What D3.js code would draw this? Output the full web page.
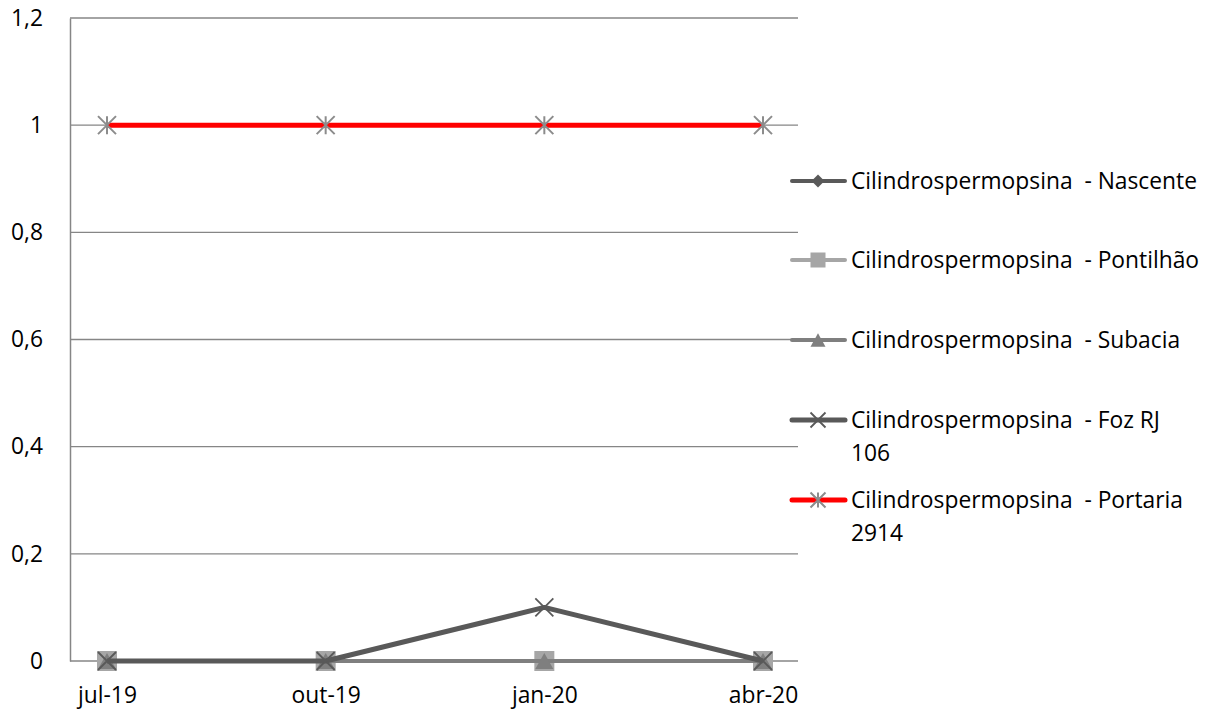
<!DOCTYPE html>
<html>
<head>
<meta charset="utf-8">
<script src="https://cdn.jsdelivr.net/npm/d3@7"></script>
<style>
  html, body { margin: 0; padding: 0; background: #fff; }
  svg text { font-family: "Open Sans", sans-serif; fill: #000; }
</style>
</head>
<body>
<svg id="chart" width="1215" height="711"></svg>
<script>
// Sampling dates (quarterly)
const categories = ["jul-19", "out-19", "jan-20", "abr-20"];

// Cylindrospermopsin concentration per station
const nascente  = [0, 0, 0, 0];
const pontilhao = [0, 0, 0, 0];
const subacia   = [0, 0, 0, 0];
const fozRJ106  = [0, 0, 0.1, 0];
const portaria  = [1, 1, 1, 1];

const seriesNames = [
  ["Cilindrospermopsina  - Nascente"],
  ["Cilindrospermopsina  - Pontilhão"],
  ["Cilindrospermopsina  - Subacia"],
  ["Cilindrospermopsina  - Foz RJ", "106"],
  ["Cilindrospermopsina  - Portaria", "2914"]
];

const yTicks = [0, 0.2, 0.4, 0.6, 0.8, 1, 1.2];

const series = [
  { values: nascente,  names: seriesNames[0], color: "#595959", width: 4,   marker: "diamond",  mcolor: "#595959" },
  { values: pontilhao, names: seriesNames[1], color: "#a6a6a6", width: 4,   marker: "square",   mcolor: "#a6a6a6" },
  { values: subacia,   names: seriesNames[2], color: "#7f7f7f", width: 4,   marker: "triangle", mcolor: "#7f7f7f" },
  { values: fozRJ106,  names: seriesNames[3], color: "#595959", width: 5,   marker: "x",        mcolor: "#595959" },
  { values: portaria,  names: seriesNames[4], color: "#ff0000", width: 5,   marker: "star",     mcolor: "#8c8c8c" }
];

const FONT = 22.8;

const svg = d3.select("#chart");

const plot = { left: 70, right: 798, top: 18, bottom: 661 };

const x = d3.scalePoint().domain(categories).range([107, 763]);
const y = d3.scaleLinear().domain([0, 1.2]).range([plot.bottom, plot.top]);

const fmt = v => d3.format("~g")(v).replace(".", ",");

// Horizontal gridlines
svg.append("g")
  .selectAll("line")
  .data(yTicks)
  .join("line")
  .attr("x1", plot.left).attr("x2", plot.right)
  .attr("y1", d => y(d)).attr("y2", d => y(d))
  .attr("stroke", "#868686").attr("stroke-width", 1.3);

// Value axis
const yAxis = svg.append("g")
  .attr("transform", `translate(${plot.left},0)`)
  .call(d3.axisLeft(y).tickValues(yTicks).tickFormat(fmt).tickSize(0).tickPadding(27));
yAxis.select(".domain").attr("stroke", "#868686").attr("stroke-width", 1.5);
yAxis.selectAll("text").attr("font-size", FONT).attr("font-family", "'Open Sans', sans-serif");

// Category axis labels
const xAxis = svg.append("g")
  .attr("transform", `translate(0,${plot.bottom})`)
  .call(d3.axisBottom(x).tickSize(0).tickPadding(26));
xAxis.select(".domain").remove();
xAxis.selectAll("text").attr("font-size", FONT).attr("font-family", "'Open Sans', sans-serif");

// Marker shapes
function drawMarker(g, type, color, size) {
  const s = size;
  if (type === "diamond") {
    g.append("path").attr("d", d3.symbol(d3.symbolDiamond2, s * s * 0.55)()).attr("fill", color);
  } else if (type === "square") {
    g.append("rect").attr("x", -s / 2).attr("y", -s / 2).attr("width", s).attr("height", s).attr("fill", color);
  } else if (type === "triangle") {
    const h = s * 0.9;
    g.append("path").attr("d", `M0,${-h / 2}L${s / 2},${h / 2}L${-s / 2},${h / 2}Z`).attr("fill", color);
  } else if (type === "x") {
    const r = s / 2;
    g.append("path").attr("d", `M${-r},${-r}L${r},${r}M${-r},${r}L${r},${-r}`)
      .attr("stroke", color).attr("stroke-width", 1.8).attr("fill", "none");
  } else if (type === "star") {
    const r = s / 2;
    g.append("path").attr("d", `M${-r},${-r}L${r},${r}M${-r},${r}L${r},${-r}M0,${-r}L0,${r}`)
      .attr("stroke", color).attr("stroke-width", 2).attr("fill", "none");
  }
}

const markerSize = { diamond: 14, square: 20, triangle: 18, x: 18, star: 18 };

const line = d3.line().x((d, i) => x(categories[i])).y(d => y(d));

series.forEach(s => {
  svg.append("path")
    .datum(s.values)
    .attr("d", line)
    .attr("fill", "none")
    .attr("stroke", s.color)
    .attr("stroke-width", s.width)
    .attr("stroke-linejoin", "round");
  s.values.forEach((v, i) => {
    const g = svg.append("g").attr("transform", `translate(${x(categories[i])},${y(v)})`);
    drawMarker(g, s.marker, s.mcolor, markerSize[s.marker]);
  });
});

// Legend
const legendY = [181, 260, 340, 420, 500];
const legendSize = { diamond: 14, square: 15, triangle: 15, x: 15, star: 15 };
series.forEach((s, k) => {
  const g = svg.append("g").attr("transform", `translate(0,${legendY[k]})`);
  g.append("line").attr("x1", 792).attr("x2", 845).attr("y1", 0).attr("y2", 0)
    .attr("stroke", s.color).attr("stroke-width", s.width).attr("stroke-linecap", "round");
  const mg = g.append("g").attr("transform", "translate(818,0)");
  drawMarker(mg, s.marker, s.mcolor, legendSize[s.marker]);
  const t = g.append("text").attr("x", 851).attr("y", 0)
    .attr("font-size", FONT).style("white-space", "pre");
  s.names.forEach((n, j) => {
    t.append("tspan").attr("x", 851).attr("dy", j === 0 ? "0.35em" : 33).text(n);
  });
});
</script>
</body>
</html>
